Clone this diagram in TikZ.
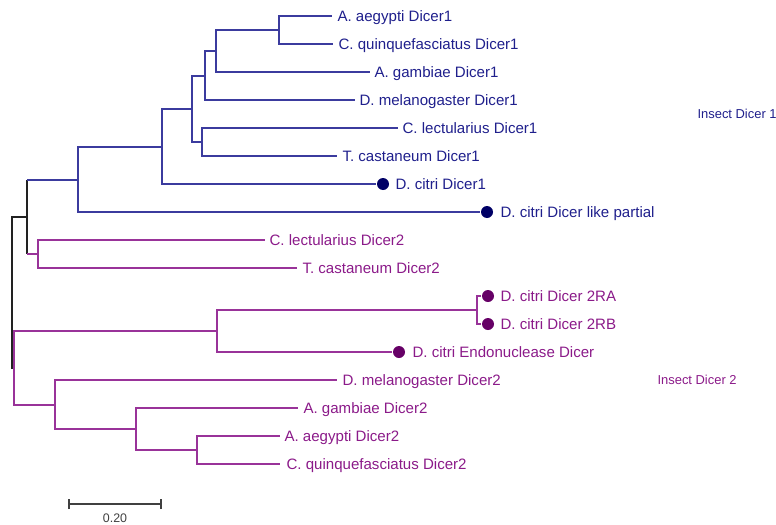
\documentclass[tikz,border=0pt]{standalone}
\usepackage{fontspec}
\setmainfont{Liberation Sans}
\definecolor{blline}{HTML}{3B3B9E}
\definecolor{bltext}{HTML}{1F1F8C}
\definecolor{bldot}{HTML}{000066}
\definecolor{puline}{HTML}{993399}
\definecolor{putext}{HTML}{8B1A89}
\definecolor{pudot}{HTML}{660066}
\definecolor{rootc}{HTML}{222222}
\definecolor{scalec}{HTML}{404040}
\begin{document}
\begin{tikzpicture}[x=0.75pt,y=-0.75pt,line width=0.85pt,
  blueline/.style={draw=blline},
  purpleline/.style={draw=puline},
  rootline/.style={draw=rootc},
  lab/.style={anchor=base west,inner sep=0pt,font=\fontsize{11.3}{13}\selectfont},
  blab/.style={lab,text=bltext},
  plab/.style={lab,text=putext},
  glab/.style={anchor=base west,inner sep=0pt,font=\fontsize{9.7}{11}\selectfont},
  dotnode/.style={circle,inner sep=0pt,minimum size=9pt},
  bdot/.style={dotnode,fill=bldot},
  pdot/.style={dotnode,fill=pudot}]
\useasboundingbox (0,0) rectangle (776,525);
% ---- Dicer 1 clade
\coordinate (n1) at (279,30);
\coordinate (t1) at (332,16);
\coordinate (t2) at (333,44);
\coordinate (n2) at (216,51);
\coordinate (t3) at (370,72);
\coordinate (n3) at (205,76);
\coordinate (t4) at (355,100);
\coordinate (n4) at (202,142);
\coordinate (t5) at (398,128);
\coordinate (t6) at (337,156);
\coordinate (n5) at (192,109);
\coordinate (n6) at (162,147);
\node[bdot] (d7) at (383,184) {};
\coordinate (n7) at (78,180);
\node[bdot] (d8) at (487,212) {};
% ---- Dicer 2 partial clade
\coordinate (n8) at (38,254);
\coordinate (t9) at (265,240);
\coordinate (t10) at (297,268);
\coordinate (n9) at (27,217);
\coordinate (root) at (12,292);
% ---- Dicer 2 clade
\node[pdot] (d11) at (488,296) {};
\node[pdot] (d12) at (488,324) {};
\coordinate (n10) at (477,310);
\node[pdot] (d13) at (399,352) {};
\coordinate (n11) at (217,331);
\coordinate (t14) at (280,436);
\coordinate (t15) at (280,464);
\coordinate (n12) at (197,450);
\coordinate (t16) at (298,408);
\coordinate (n13) at (136,429);
\coordinate (t17) at (337,380);
\coordinate (n14) at (55,405);
\coordinate (n15) at (14,368);

% ---- edges
\draw[blueline] (n1) |- (t1);
\draw[blueline] (n1) |- (t2);
\draw[blueline] (n2) |- (n1);
\draw[blueline] (n2) |- (t3);
\draw[blueline] (n3) |- (n2);
\draw[blueline] (n3) |- (t4);
\draw[blueline] (n4) |- (t5);
\draw[blueline] (n4) |- (t6);
\draw[blueline] (n5) |- (n3);
\draw[blueline] (n5) |- (n4);
\draw[blueline] (n6) |- (n5);
\draw[blueline] (n6) |- (d7.west);
\draw[blueline] (n7) |- (n6);
\draw[blueline] (n7) |- (d8.west);
\draw[purpleline] (n8) |- (t9);
\draw[purpleline] (n8) |- (t10);
\draw[rootline] (n9) -- (n9 |- n7);
\draw[rootline] (n9) -- (n9 |- n8);
\draw[blueline] (n9 |- n7) -- (n7);
\draw[purpleline] (n9 |- n8) -- (n8);
\draw[rootline] (root) |- (n9);
\draw[rootline] (root) |- (n15);
\draw[purpleline] (n10) |- (d11.west);
\draw[purpleline] (n10) |- (d12.west);
\draw[purpleline] (n11) |- (n10);
\draw[purpleline] (n11) |- (d13.west);
\draw[purpleline] (n12) |- (t14);
\draw[purpleline] (n12) |- (t15);
\draw[purpleline] (n13) |- (t16);
\draw[purpleline] (n13) |- (n12);
\draw[purpleline] (n14) |- (t17);
\draw[purpleline] (n14) |- (n13);
\draw[purpleline] (n15) |- (n11);
\draw[purpleline] (n15) |- (n14);

% ---- labels
\node[blab] (l1) at (337,21.4) {A. aegypti Dicer1};
\node[blab] (l2) at (338,49.4) {C. quinquefasciatus Dicer1};
\node[blab] (l3) at (374,77.4) {A. gambiae Dicer1};
\node[blab] (l4) at (359,105.4) {D. melanogaster Dicer1};
\node[blab] (l5) at (402,133.4) {C. lectularius Dicer1};
\node[blab] (l6) at (342,161.4) {T. castaneum Dicer1};
\node[blab] (l7) at (395,189.4) {D. citri Dicer1};
\node[blab] (l8) at (500,217.4) {D. citri Dicer like partial};
\node[plab] (l9) at (269,245.4) {C. lectularius Dicer2};
\node[plab] (l10) at (302,273.4) {T. castaneum Dicer2};
\node[plab] (l11) at (500,301.4) {D. citri Dicer 2RA};
\node[plab] (l12) at (500,329.4) {D. citri Dicer 2RB};
\node[plab] (l13) at (412,357.4) {D. citri Endonuclease Dicer};
\node[plab] (l17) at (342,385.4) {D. melanogaster Dicer2};
\node[plab] (l16) at (303,413.4) {A. gambiae Dicer2};
\node[plab] (l14) at (284,441.4) {A. aegypti Dicer2};
\node[plab] (l15) at (286,469.4) {C. quinquefasciatus Dicer2};
\node[glab,text=bltext] (g1) at (697,118.5) {Insect Dicer 1};
\node[glab,text=putext] (g2) at (657,384.5) {Insect Dicer 2};

% ---- scale bar
\coordinate (s1) at (69,504);
\coordinate (s2) at (161,504);
\draw[scalec] (s1) -- (s2);
\draw[scalec] ([yshift=-5*0.75pt]s1) -- ([yshift=5*0.75pt]s1);
\draw[scalec] ([yshift=-5*0.75pt]s2) -- ([yshift=5*0.75pt]s2);
\node[anchor=base,inner sep=0pt,text=scalec,font=\fontsize{9.3}{11}\selectfont] (sl) at (115,522) {0.20};
\end{tikzpicture}
\end{document}
